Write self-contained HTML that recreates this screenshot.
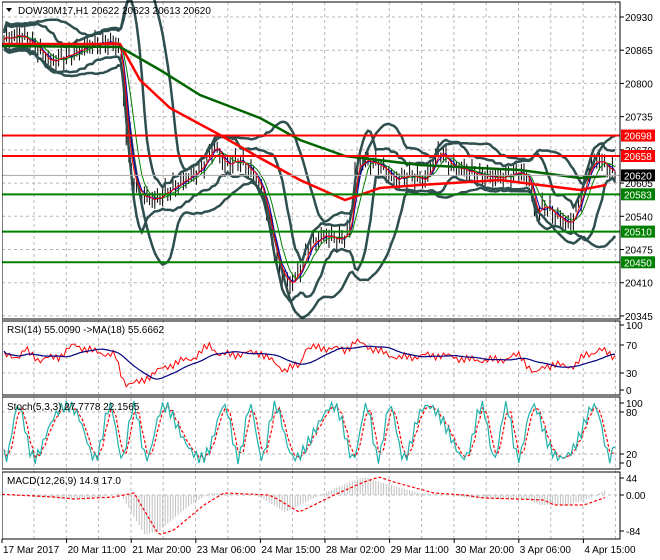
<!DOCTYPE html>
<html><head><meta charset="utf-8"><style>
body{margin:0;background:#fff;}
svg{display:block;font-family:"Liberation Sans",sans-serif;font-size:10px;}
</style></head><body>
<svg id="s" width="660" height="560" xmlns="http://www.w3.org/2000/svg"></svg>
<script>
var S=document.getElementById('s'),h='';
function Y(p){return 17+(20930-p)*0.511;}
function pl(pts,c,w,d){h+='<polyline fill="none" stroke="'+c+'" stroke-width="'+w+'"'+(d?' stroke-dasharray="'+d+'"':'')+' points="'+pts.map(function(p){return p[0].toFixed(1)+','+p[1].toFixed(1)}).join(' ')+'"/>';}
function interp(k,x){for(var i=1;i<k.length;i++){if(x<=k[i][0]){var a=k[i-1],b=k[i],t=(x-a[0])/(b[0]-a[0]);return a[1]+t*(b[1]-a[1]);}}return k[k.length-1][1];}
function smooth(arr,n){var o=[];for(var i=0;i<arr.length;i++){var s=0,c=0;for(var j=Math.max(0,i-n);j<=i;j++){s+=arr[j];c++;}o.push(s/c);}return o;}
var g='#b8b8b8';
for(var x=34;x<620;x+=32.3){h+='<line x1="'+x+'" y1="2" x2="'+x+'" y2="539" stroke="'+g+'" stroke-dasharray="3,3"/>';}
var prices=[20930,20865,20800,20735,20670,20605,20540,20475,20410,20345];
prices.forEach(function(p){var y=Y(p);h+='<line x1="2" y1="'+y+'" x2="620" y2="'+y+'" stroke="'+g+'" stroke-dasharray="3,3"/>';h+='<line x1="620" y1="'+y+'" x2="624" y2="'+y+'" stroke="#000"/><text x="625" y="'+(y+4)+'">'+p+'</text>';});
[344,373].forEach(function(y){h+='<line x1="2" y1="'+y+'" x2="620" y2="'+y+'" stroke="'+g+'" stroke-dasharray="3,3"/>';});
[412,454].forEach(function(y){h+='<line x1="2" y1="'+y+'" x2="620" y2="'+y+'" stroke="'+g+'" stroke-dasharray="3,3"/>';});
h+='<line x1="2" y1="495" x2="620" y2="495" stroke="'+g+'" stroke-dasharray="3,3"/>';
var key=[[2,40],[20,35],[35,45],[50,62],[70,55],[90,45],[110,42],[120,46],[125,120],[130,170],[140,195],[155,200],[170,190],[185,180],[200,170],[215,145],[225,165],[240,160],[255,175],[265,200],[272,240],[280,270],[290,285],[300,270],[310,245],[325,235],[340,240],[350,230],[355,170],[365,160],[380,165],[395,180],[410,175],[425,180],[440,150],[450,165],[465,170],[480,175],[500,178],[520,172],[530,180],[535,215],[545,205],[555,215],[570,225],[580,200],[590,165],[600,160],[610,170],[618,175]];
var xs=[],cl=[];for(var x=4;x<=616;x+=2.6){xs.push(x);cl.push(interp(key,x)+4*Math.sin(x*1.7)+3*Math.sin(x*0.9));}
for(var i=0;i<xs.length;i++){var y=cl[i],r=5+4*Math.abs(Math.sin(i*2.3));h+='<line x1="'+xs[i]+'" y1="'+(y-r)+'" x2="'+xs[i]+'" y2="'+(y+r)+'" stroke="#000" stroke-width="1"/>';}
var m=smooth(cl,8),bu=[],bl=[];
for(var i=0;i<xs.length;i++){var s=0,c=0;for(var j=Math.max(0,i-8);j<=i;j++){s+=(cl[j]-m[i])*(cl[j]-m[i]);c++;}var sd=Math.sqrt(s/c)*1.6+7;bu.push([xs[i],m[i]-sd]);bl.push([xs[i],m[i]+sd]);}
pl(bu,'#2f4f4f',2.5);pl(bl,'#2f4f4f',2.5);
var m2=smooth(cl,20),b2u=[],b2l=[];
for(var i=0;i<xs.length;i++){var s=0,c=0;for(var j=Math.max(0,i-20);j<=i;j++){s+=(cl[j]-m2[i])*(cl[j]-m2[i]);c++;}var sd=Math.sqrt(s/c)*1.7+9;b2u.push([xs[i],m2[i]-sd]);b2l.push([xs[i],m2[i]+sd]);}
pl(b2u,'#2f4f4f',2.5);pl(b2l,'#2f4f4f',2.5);
pl(xs.map(function(x,i){return[x,smooth(cl,3)[i]]}),'#0000aa',1);
pl(xs.map(function(x,i){return[x,smooth(cl,6)[i]]}),'#008000',1);
pl(xs.map(function(x,i){return[x,smooth(cl,2)[i]]}),'#ff0000',1);
pl([[2,44],[120,44],[140,80],[170,108],[220,135],[260,158],[300,180],[345,200],[380,188],[420,185],[500,180],[540,185],[580,190],[606,185]],'#ff0000',2.5);
pl([[2,46],[120,47],[160,70],[200,95],[260,118],[300,140],[345,156],[420,165],[520,170],[580,178],[606,176]],'#006400',2.5);
[[20698,'#ff0000'],[20658,'#ff0000'],[20583,'#008000'],[20510,'#008000'],[20450,'#008000']].forEach(function(l){var y=Y(l[0]);h+='<line x1="2" y1="'+y+'" x2="620" y2="'+y+'" stroke="'+l[1]+'" stroke-width="2"/><rect x="621" y="'+(y-6)+'" width="34" height="12" fill="'+l[1]+'"/><text x="624" y="'+(y+4)+'" fill="#fff">'+l[0]+'</text>';});
var yc=Y(20620);h+='<line x1="2" y1="'+yc+'" x2="620" y2="'+yc+'" stroke="#aaa"/><rect x="621" y="'+(yc-6)+'" width="34" height="12" fill="#000"/><text x="624" y="'+(yc+4)+'" fill="#fff">20620</text>';
var rk=[[2,356],[20,356],[25,350],[40,360],[60,356],[70,348],[75,345],[95,352],[115,355],[120,372],[125,383],[140,383],[150,375],[170,365],[195,357],[210,345],[220,355],[240,354],[260,352],[270,360],[285,370],[300,365],[305,348],[330,348],[345,350],[355,342],[365,345],[380,352],[400,358],[420,356],[440,355],[470,360],[500,360],[520,355],[535,375],[545,365],[575,366],[585,355],[600,350],[615,356]];
var rr=[];for(var i=0;i<xs.length;i++){var x=xs[i];rr.push([x,interp(rk,x)+3*Math.sin(x*1.1)+2*Math.sin(x*2.7)]);}
var rs=smooth(rr.map(function(p){return p[1]}),14);
pl(rr,'#ff0000',1);pl(xs.map(function(x,i){return[x,rs[i]]}),'#000080',1.2);
var st=[];for(var i=0;i<xs.length;i++){var x=xs[i];var v=432+26*Math.sin(x*0.17+Math.sin(x*0.05)*2)+6*Math.sin(x*1.3);st.push([x,Math.max(401,Math.min(465,v))]);}
var ss=smooth(st.map(function(p){return p[1]}),2);
pl(xs.map(function(x,i){return[x,ss[i]]}),'#ff0000',1.2,'3,2');pl(st,'#20b2aa',1.2);
var mk=[[2,495],[40,497],[60,499],[100,497],[120,493],[130,510],[145,535],[160,530],[190,505],[210,493],[255,495],[265,500],[285,512],[300,505],[320,495],[350,482],[365,477],[380,482],[420,493],[450,495],[470,498],[530,500],[540,505],[570,505],[590,498],[606,490]];
for(var x=4;x<=606;x+=2.6){var v=interp(mk,x);h+='<line x1="'+x+'" y1="495" x2="'+x+'" y2="'+v+'" stroke="#c0c0c0"/>';}
var sg=[];for(var x=2;x<=606;x+=3){sg.push([x,interp(mk,x-14)]);}pl(sg,'#ff0000',1.2,'3,2');
[[2,2,618,317],[2,321,618,74],[2,397,618,72],[2,472,618,67]].forEach(function(r){h+='<rect x="'+r[0]+'" y="'+r[1]+'" width="'+r[2]+'" height="'+r[3]+'" fill="none" stroke="#000"/>';});
h+='<rect x="0" y="0" width="2" height="560" fill="#fff"/>';
[[345,70],[373,30],[325,100],[390,0]].forEach(function(a){h+='<line x1="620" y1="'+a[0]+'" x2="624" y2="'+a[0]+'" stroke="#000"/><text x="626" y="'+(a[0]+4)+'">'+a[1]+'</text>';});
[[403,100],[412,80],[454,20],[463,0]].forEach(function(a){h+='<line x1="620" y1="'+a[0]+'" x2="624" y2="'+a[0]+'" stroke="#000"/><text x="626" y="'+(a[0]+4)+'">'+a[1]+'</text>';});
[[478,44],[495,'0.00'],[531,-84]].forEach(function(a){h+='<line x1="620" y1="'+a[0]+'" x2="624" y2="'+a[0]+'" stroke="#000"/><text x="626" y="'+(a[0]+4)+'">'+a[1]+'</text>';});
var tl=['17 Mar 2017','20 Mar 11:00','21 Mar 20:00','23 Mar 06:00','24 Mar 15:00','28 Mar 02:00','29 Mar 11:00','30 Mar 20:00','3 Apr 06:00','4 Apr 15:00'];
tl.forEach(function(t,i){var x=2+i*64.6;h+='<line x1="'+x+'" y1="539" x2="'+x+'" y2="543" stroke="#000"/><text x="'+(x+1)+'" y="553">'+t+'</text>';});
h+='<polygon points="6,8 12,8 9,12" fill="#000"/><text x="18" y="14">DOW30M17,H1  20622 20623 20613 20620</text>';
h+='<text x="7" y="333">RSI(14) 55.0090  -&gt;MA(18) 55.6662</text>';
h+='<text x="7" y="410">Stoch(5,3,3) 27.7778 22.1565</text>';
h+='<text x="7" y="484">MACD(12,26,9) 14.9 17.0</text>';
S.innerHTML=h;
</script>
</body></html>
